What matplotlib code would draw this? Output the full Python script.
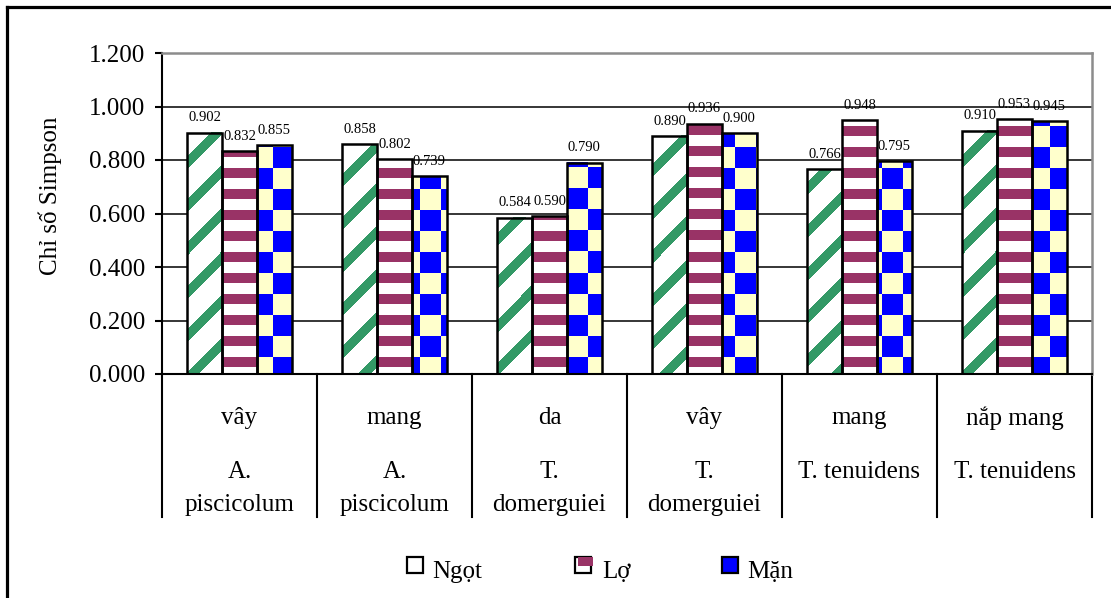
import matplotlib
matplotlib.use('Agg')
import matplotlib.pyplot as plt
import matplotlib.transforms as mtransforms
from matplotlib.lines import Line2D
from matplotlib.patches import Rectangle
import numpy as np

plt.rcParams['font.family'] = ['Liberation Serif', 'DejaVu Serif']

# body part / species for each group
parts = ['vây', 'mang', 'da', 'vây', 'mang', 'nắp mang']
species = ['A.\npiscicolum', 'A.\npiscicolum', 'T.\ndomerguiei',
           'T.\ndomerguiei', 'T. tenuidens', 'T. tenuidens']
series = ['Ngọt', 'Lợ', 'Mặn']

ngot = [0.902, 0.858, 0.584, 0.890, 0.766, 0.910]
lo = [0.832, 0.802, 0.590, 0.936, 0.948, 0.953]
man = [0.855, 0.739, 0.790, 0.900, 0.795, 0.945]

yticks = [0.0, 0.2, 0.4, 0.6, 0.8, 1.0, 1.2]

W, H = 1111, 598

GREEN = np.array([0x33, 0x99, 0x66]) / 255.0
MAROON = np.array([0x99, 0x33, 0x66]) / 255.0
BLUE = np.array([0x00, 0x00, 0xFF]) / 255.0
CREAM = np.array([0xFF, 0xFF, 0xCC]) / 255.0
WHITE = np.array([1.0, 1.0, 1.0])


def two_tone(mask, fg, bg):
    return np.where(mask[..., None], fg, bg)


# fill patterns, in pixel coords (rows counted from the top)
def diag_green(px, py):
    return two_tone(((px + py) % 43) < 13, GREEN, WHITE)


def bands_maroon(px, py):
    return two_tone((py % 21) < 10, MAROON, WHITE)


def checker_blue(px, py):
    return two_tone(((px // 21) + (py // 21)) % 2 == 0, BLUE, CREAM)


def fill_pattern(ax, bar, painter):
    bb = bar.get_window_extent()
    c0, c1 = int(round(bb.x0)), int(round(bb.x1))
    r0, r1 = int(round(H - bb.y1)), int(round(H - bb.y0))
    if c1 <= c0 or r1 <= r0:
        return
    px, py = np.meshgrid(np.arange(c0, c1), np.arange(r0, r1))
    img = painter(px, py)
    x, y = bar.get_x(), bar.get_y()
    ax.imshow(img, extent=(x, x + bar.get_width(), y, y + bar.get_height()),
              aspect='auto', interpolation='nearest', zorder=2.5)


def main():
    fig = plt.figure(figsize=(W / 100, H / 100), dpi=100)
    ax = fig.add_axes([162 / W, 1 - 374 / H, 930 / W, 321 / H])

    n = len(parts)
    x = np.arange(n)
    bw = 0.225
    ax.set_xlim(-0.5, n - 0.5)
    ax.set_ylim(0, 1.2)

    painters = [diag_green, bands_maroon, checker_blue]
    for k, (vals, painter) in enumerate(zip([ngot, lo, man], painters)):
        xs = x + (k - 1) * bw
        bars = ax.bar(xs, vals, bw, color='white', zorder=2)
        for b in bars:
            fill_pattern(ax, b, painter)
        ax.bar(xs, vals, bw, fill=False, edgecolor='black', linewidth=1.8, zorder=3)
        for xi, v in zip(xs, vals):
            ax.annotate(f'{v:.3f}', (xi, v), xytext=(0, 6), textcoords='offset points',
                        ha='center', va='bottom', fontsize=10.5)

    ax.set_xlim(-0.5, n - 0.5)
    ax.set_ylim(0, 1.2)

    ax.set_yticks(yticks)
    ax.set_yticklabels([f'{v:.3f}' for v in yticks], fontsize=18)
    ax.tick_params(axis='y', direction='out', length=5, width=1.5, pad=7)
    ax.set_xticks([])
    ax.set_axisbelow(True)
    ax.yaxis.grid(True, color='black', linewidth=1.1)

    ax.spines['left'].set_linewidth(1.5)
    ax.spines['bottom'].set_linewidth(1.5)
    for s in ('top', 'right'):
        ax.spines[s].set_color('#8c8c8c')
        ax.spines[s].set_linewidth(1.8)

    # two-level category axis below the plot
    blend = mtransforms.blended_transform_factory(ax.transData, ax.transAxes)
    for k in range(n + 1):
        ax.plot([k - 0.5, k - 0.5], [0, -0.445], transform=blend, color='black',
                linewidth=1.5, clip_on=False)
    for i in range(n):
        ax.text(i, -0.137, parts[i], transform=blend, ha='center', va='center', fontsize=18)
        for j, line in enumerate(species[i].split('\n')):
            ax.text(i, -0.305 - 0.103 * j, line, transform=blend, ha='center',
                    va='center', fontsize=18)

    fig.text(50 / W, 1 - 196 / H, 'Chỉ số Simpson', rotation=90, ha='center',
             va='center', fontsize=18)

    # legend
    boxes = [(407, 'white'), (575, 'white'), (722, BLUE)]
    labels_x = [432, 602, 747]
    for (bx, fc), lx, name in zip(boxes, labels_x, series):
        fig.add_artist(Rectangle((bx / W, 1 - 573 / H), 16 / W, 16 / H,
                                 transform=fig.transFigure, facecolor=fc,
                                 edgecolor='black', linewidth=1.6))
        fig.text(lx / W, 1 - 578 / H, name, ha='left', va='baseline', fontsize=18)
    fig.add_artist(Rectangle(((575 + 3) / W, 1 - 566 / H), 15 / W, 9 / H,
                             transform=fig.transFigure, facecolor=MAROON,
                             edgecolor='none'))

    # outer frame (top and left edges)
    fig.add_artist(Line2D([6.5 / W, 6.5 / W], [0, 1 - 6.5 / H],
                          transform=fig.transFigure, color='black', linewidth=2.3))
    fig.add_artist(Line2D([6.5 / W, 1], [1 - 6.5 / H, 1 - 6.5 / H],
                          transform=fig.transFigure, color='black', linewidth=2.3))

    fig.savefig('out.png', dpi=100)


if __name__ == '__main__':
    main()
